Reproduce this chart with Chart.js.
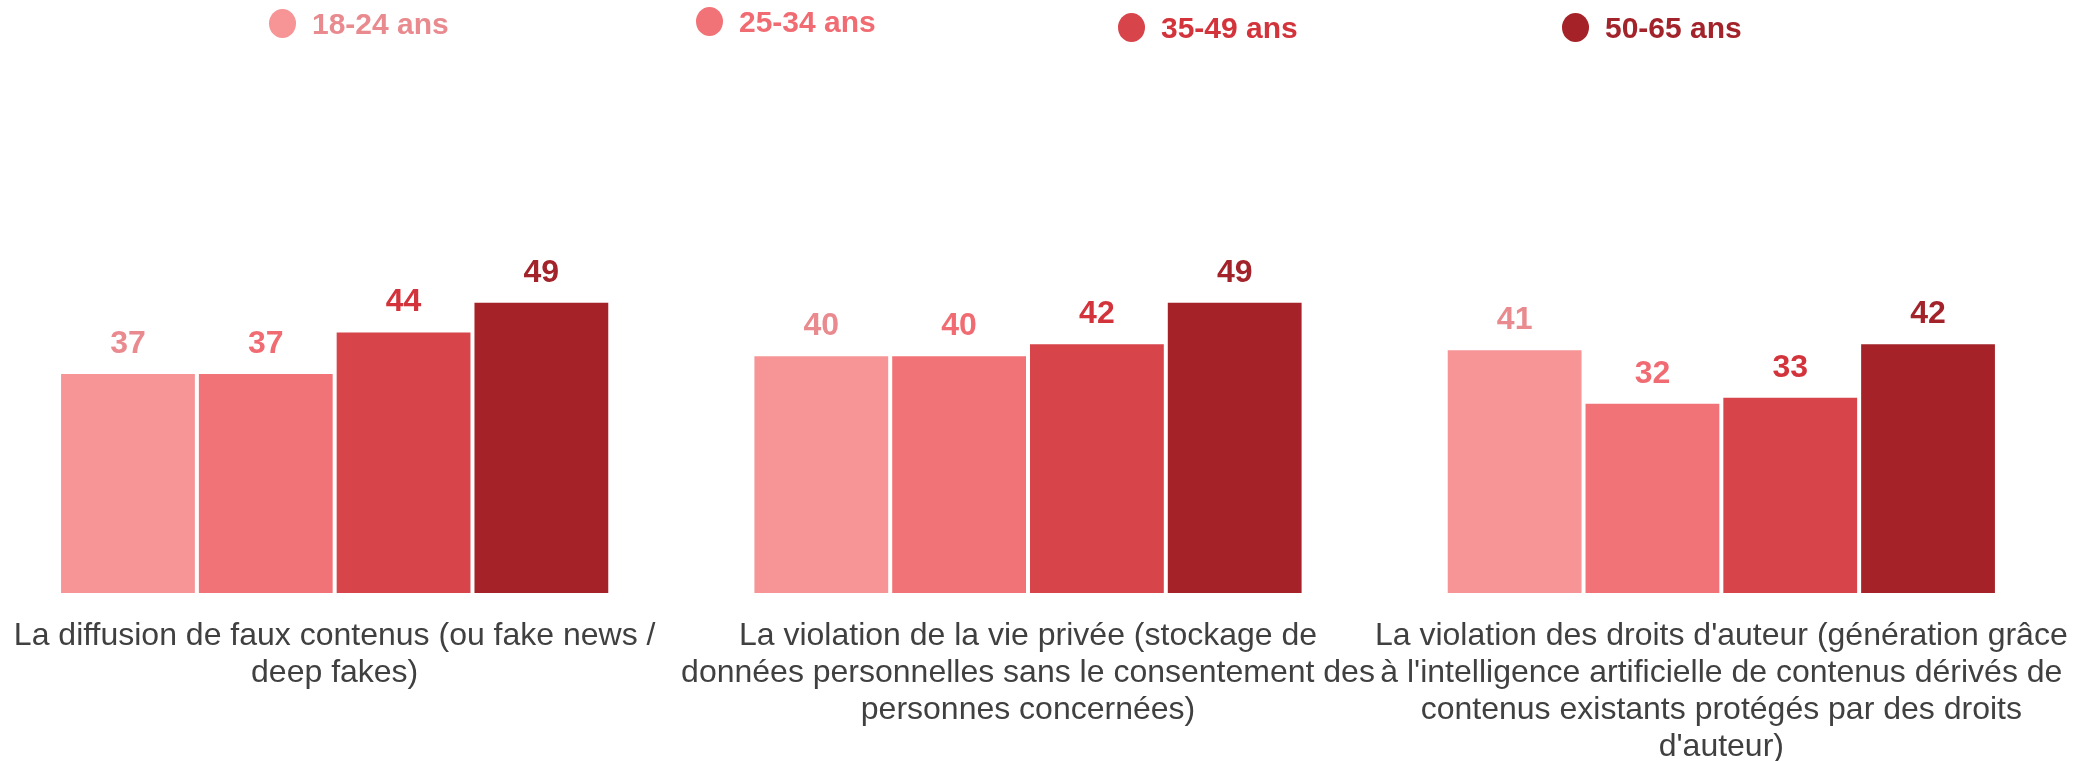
<!DOCTYPE html>
<html lang="fr">
<head>
<meta charset="utf-8">
<title>Risques perçus selon l'âge</title>
<script src="https://cdn.jsdelivr.net/npm/chart.js@4"></script>
<style>
  html, body { margin: 0; padding: 0; background: #fff; overflow: hidden; }
  body { width: 2089px; height: 761px; position: relative; font-family: 'Liberation Sans', Arial, sans-serif; }
  #legend { position: absolute; left: 0; top: 0; width: 100%; height: 50px; z-index: 2; }
  .item { position: absolute; display: flex; align-items: center; height: 35px; font-weight: bold; font-size: 30px; white-space: nowrap; }
  .dot { width: 27px; height: 29px; border-radius: 50%; margin-right: 16px; }
  #wrap { position: absolute; left: -12px; top: 0; width: 2101px; height: 761px; }
</style>
</head>
<body>
<div id="legend"></div>
<div id="wrap"><canvas id="risksChart"></canvas></div>
<script>
const categories = [
  ['La diffusion de faux contenus (ou fake news /', 'deep fakes)'],
  ['La violation de la vie privée (stockage de', 'données personnelles sans le consentement des', 'personnes concernées)'],
  ["La violation des droits d'auteur (génération grâce", "à l'intelligence artificielle de contenus dérivés de", 'contenus existants protégés par des droits', "d'auteur)"]
];
const ageGroups = ['18-24 ans', '25-34 ans', '35-49 ans', '50-65 ans'];

const age18to24 = [37, 40, 41];
const age25to34 = [37, 40, 32];
const age35to49 = [44, 42, 33];
const age50to65 = [49, 49, 42];

const barColors = ['#f69496', '#f27377', '#d7444a', '#a52328'];
const textColors = ['#e98a8f', '#f06c72', '#d3333b', '#a3232a'];

// legend sits above the plot, spaced by hand
const legendLeft = [269, 696, 1118, 1562];
const legendTop = [6, 4, 10, 10];

const legend = document.getElementById('legend');
ageGroups.forEach((g, i) => {
  const item = document.createElement('div');
  item.className = 'item';
  item.style.left = legendLeft[i] + 'px';
  item.style.top = legendTop[i] + 'px';
  item.style.color = textColors[i];
  item.innerHTML = `<span class="dot" style="background:${barColors[i]}"></span><span>${g}</span>`;
  legend.appendChild(item);
});

// value above each bar
const valueLabels = {
  id: 'valueLabels',
  afterDatasetsDraw(chart) {
    const ctx = chart.ctx;
    ctx.save();
    ctx.font = 'bold 32px "Liberation Sans", Arial, sans-serif';
    ctx.textAlign = 'center';
    ctx.textBaseline = 'alphabetic';
    chart.data.datasets.forEach((ds, i) => {
      ctx.fillStyle = textColors[i];
      chart.getDatasetMeta(i).data.forEach((bar, j) => {
        ctx.fillText(ds.data[j], bar.x, bar.y - 20);
      });
    });
    ctx.restore();
  }
};

Chart.defaults.font.family = "'Liberation Sans', Arial, sans-serif";

const series = [age18to24, age25to34, age35to49, age50to65];

new Chart(document.getElementById('risksChart'), {
  type: 'bar',
  data: {
    labels: categories,
    datasets: series.map((values, i) => ({
      label: ageGroups[i],
      data: values,
      backgroundColor: barColors[i],
      borderColor: '#ffffff',
      borderWidth: { top: 1, left: 2, right: 2, bottom: 0 },
      borderSkipped: 'start',
      barPercentage: 1,
      categoryPercentage: 0.795
    }))
  },
  options: {
    responsive: true,
    maintainAspectRatio: false,
    animation: false,
    layout: { padding: { top: 58, right: 21, left: 0, bottom: 0 } },
    plugins: {
      legend: { display: false },
      tooltip: { enabled: false }
    },
    scales: {
      x: {
        grid: { display: false, drawTicks: false },
        border: { display: false },
        ticks: {
          color: '#404040',
          font: { size: 32, lineHeight: 1.156 },
          padding: 25,
          maxRotation: 0,
          autoSkip: false
        },
        afterFit(scale) {
          // keep the plot bottom fixed whatever the label block measures
          scale.height = 168;
          scale.paddingLeft = 0;
          scale.paddingRight = 0;
        }
      },
      y: {
        display: false,
        min: 0,
        max: 90
      }
    }
  },
  plugins: [valueLabels]
});
</script>
</body>
</html>
